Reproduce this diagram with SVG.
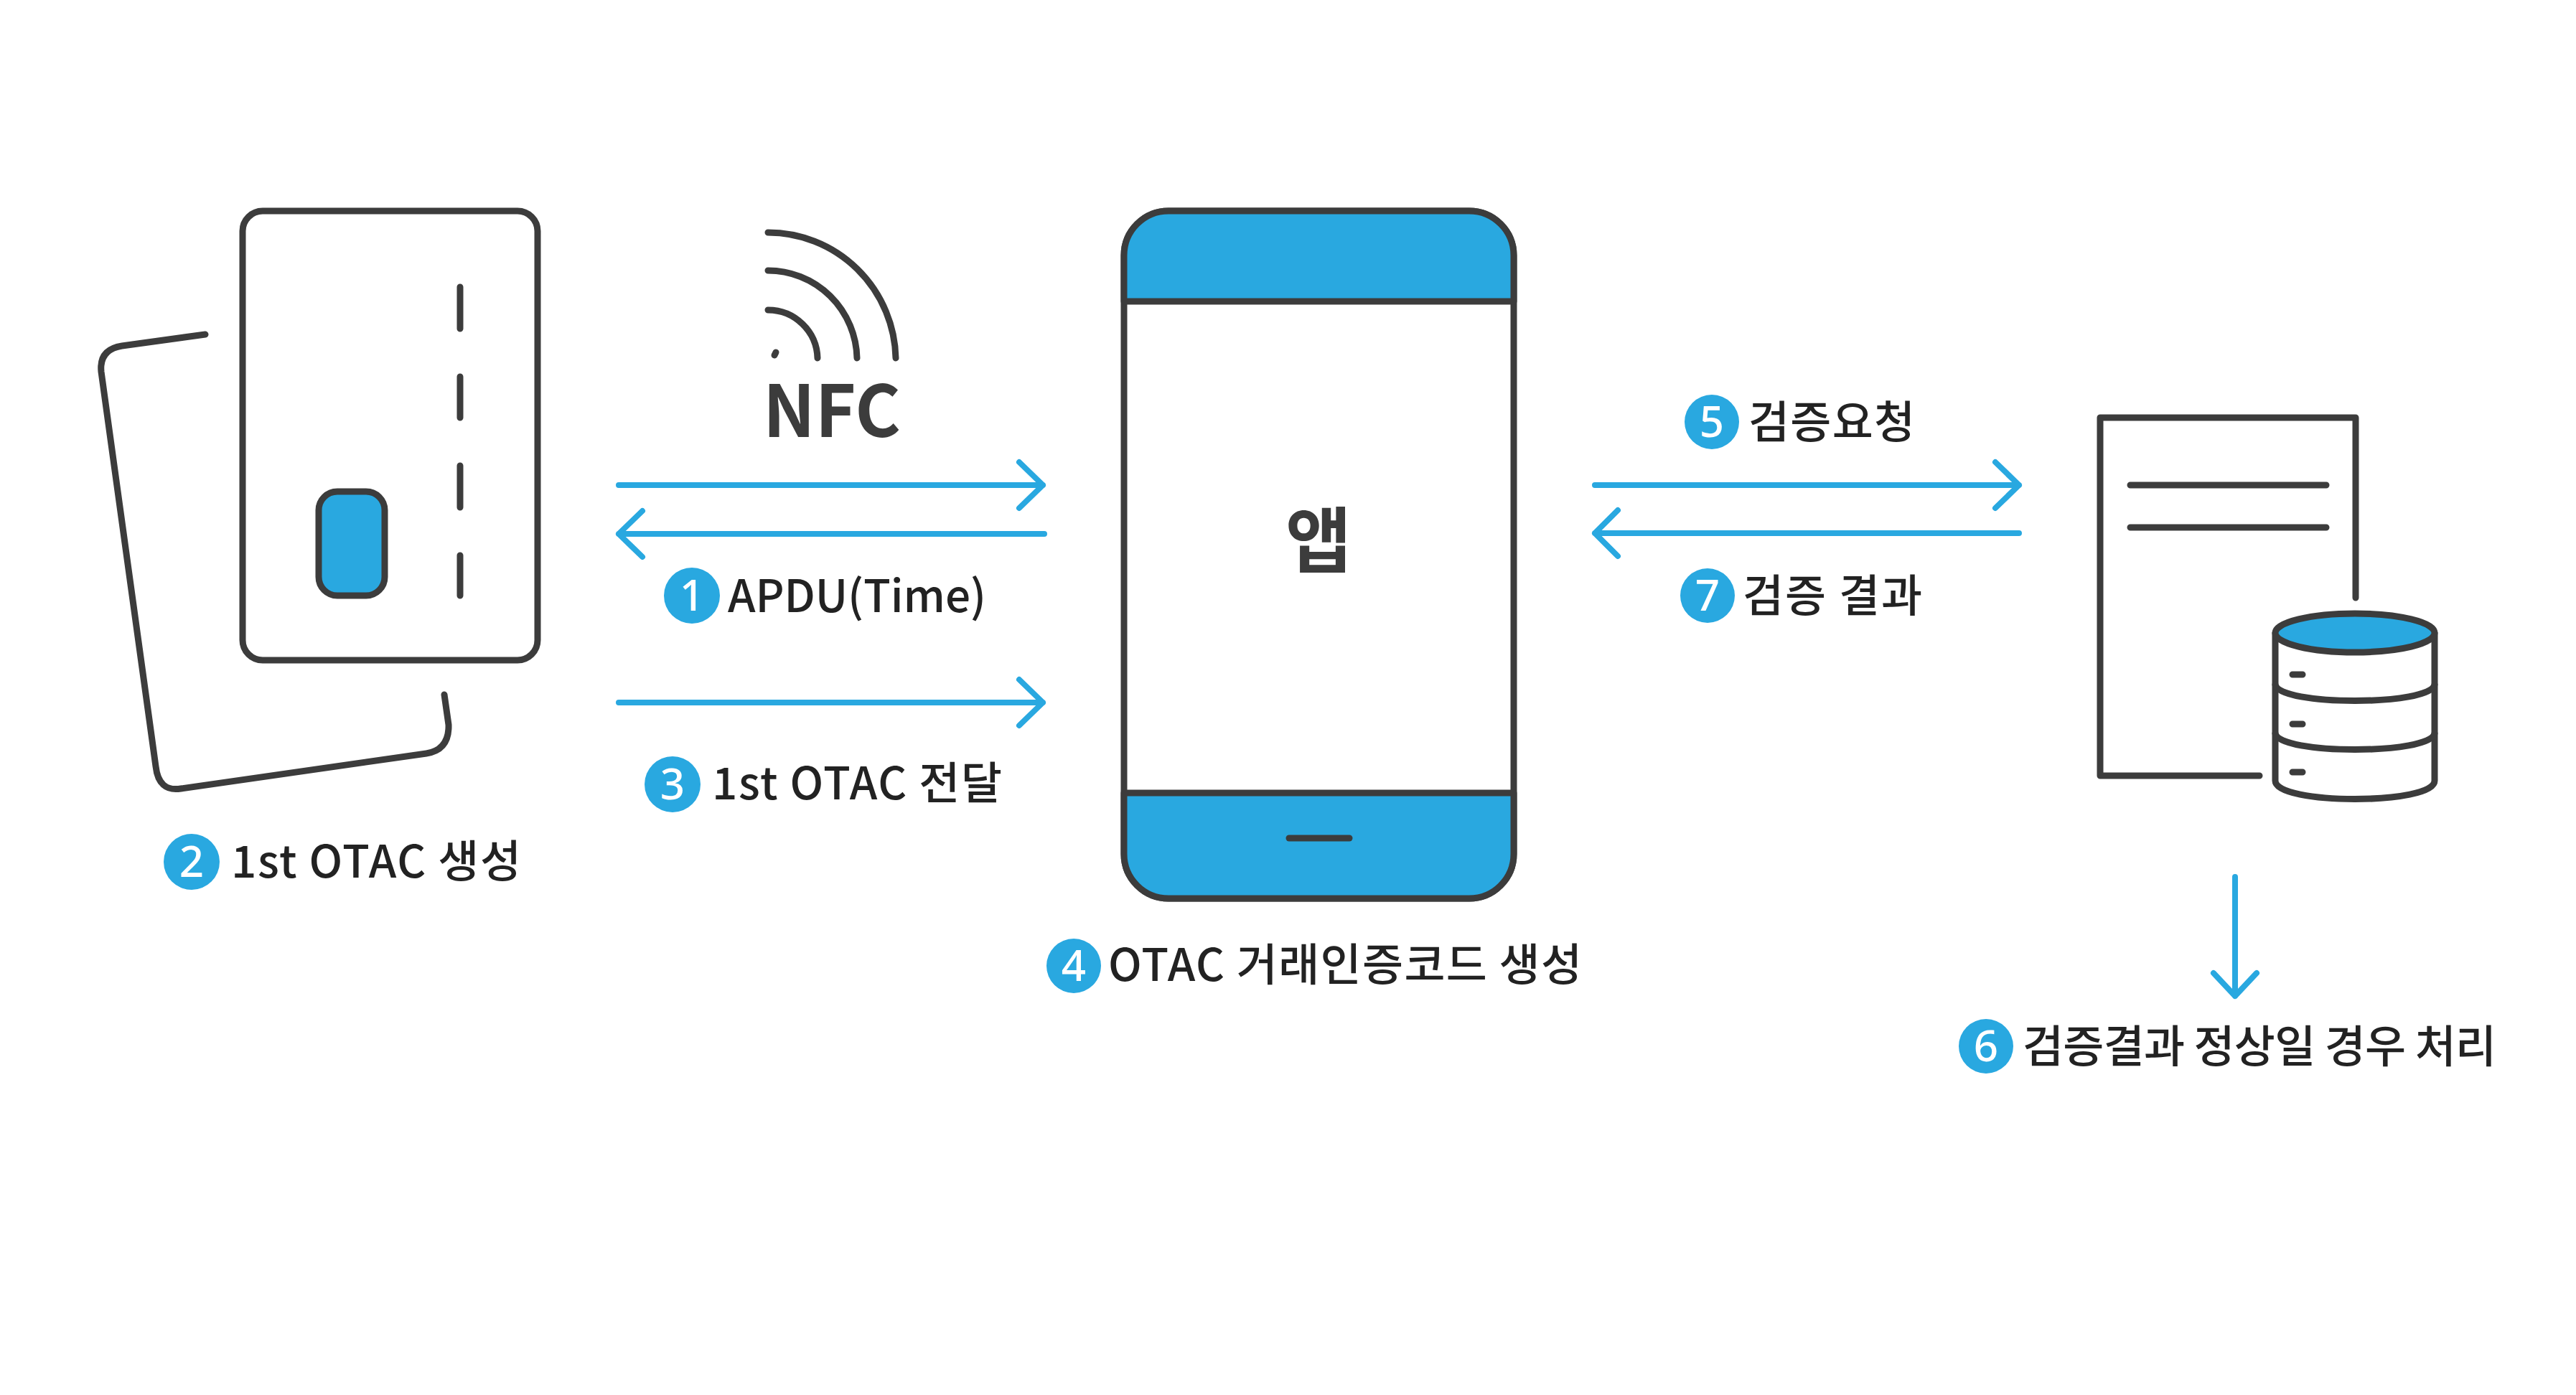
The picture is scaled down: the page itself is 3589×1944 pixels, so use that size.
<svg xmlns="http://www.w3.org/2000/svg" width="3589" height="1944" viewBox="0 0 3589 1944">
<style>
.o{fill:none;stroke:#3c3c3c;stroke-width:9;stroke-linecap:round;stroke-linejoin:round}
.f{fill:#29a8e0;stroke:#3c3c3c;stroke-width:9;stroke-linejoin:round}
.w{fill:#fff;stroke:#3c3c3c;stroke-width:9;stroke-linejoin:round}
.a{fill:none;stroke:#29a8e0;stroke-width:8;stroke-linecap:round;stroke-linejoin:round}
.c{fill:#29a8e0}
.t{font-family:"Noto Sans CJK KR","Noto Sans",sans-serif;font-size:62px;font-weight:500;fill:#222}
.n{font-family:"Noto Sans","Noto Sans CJK KR",sans-serif;font-size:60px;font-weight:500;fill:#fff;text-anchor:middle}
.b{font-family:"Noto Sans CJK KR","Noto Sans",sans-serif;font-weight:700;fill:#3c3c3c}
</style>
<rect width="3589" height="1944" fill="#fff"/>
<g id="card">
<path class="o" d="M286 466L170 482Q138 487 141 518L217 1068Q221 1104 252 1099L594 1050Q626 1045 625 1010L619 968"/>
<rect class="o" x="338" y="294" width="411" height="626" rx="28"/>
<rect class="f" x="444" y="685" width="92" height="145" rx="26"/>
<path class="o" d="M641 400V458M641 525V582M641 649V707M641 774V830"/>
</g>
<g id="nfc">
<path class="o" d="M1070 324A178 179 0 0 1 1248 499M1070 377A124 125 0 0 1 1194 499M1070 432A69 69 0 0 1 1139 499M1079 495L1081 491"/>
<text class="b" x="1063" y="609" font-size="100" textLength="192" lengthAdjust="spacingAndGlyphs">NFC</text>
</g>
<g id="phone">
<rect class="w" x="1566" y="294" width="543" height="958" rx="62"/>
<path class="f" d="M1566 420V356A62 62 0 0 1 1628 294H2047A62 62 0 0 1 2109 356V420Z"/>
<path class="f" d="M1566 1105H2109V1190A62 62 0 0 1 2047 1252H1628A62 62 0 0 1 1566 1190Z"/>
<path class="o" d="M1796 1168H1880"/>
<text class="b" x="1837" y="790" font-size="100" text-anchor="middle">앱</text>
</g>
<g id="server">
<path class="o" d="M3282 833V582H2926V1081H3148"/>
<path class="o" d="M2968 676H3241M2968 735H3241"/>
<path class="w" d="M3170 882V1088C3170 1122 3392 1122 3392 1088V882Z"/>
<ellipse class="f" cx="3281" cy="882" rx="111" ry="27"/>
<path class="o" d="M3170 954C3175 984 3387 984 3392 954M3170 1022C3175 1052 3387 1052 3392 1022"/>
<path class="o" d="M3194 940H3208M3194 1009H3208M3194 1076H3208"/>
</g>
<g id="connectors">
<path class="a" d="M862 676H1453M1420 644L1453 676L1420 708"/>
<path class="a" d="M1455 744H862M895 712L862 744L895 776"/>
<path class="a" d="M862 979H1453M1420 947L1453 979L1420 1011"/>
<path class="a" d="M2222 676H2813M2780 644L2813 676L2780 708"/>
<path class="a" d="M2813 743H2222M2254 711L2222 743L2254 775"/>
<path class="a" d="M3114 1222V1388M3084 1356L3114 1388L3144 1356"/>
</g>
<g id="label1"><circle class="c" cx="964" cy="830" r="39"/><text class="n" x="964" y="851">1</text><text class="t" x="1014" y="853" textLength="360">APDU(Time)</text></g>
<g id="label2"><circle class="c" cx="267" cy="1201" r="39"/><text class="n" x="267" y="1222">2</text><text class="t" x="322" y="1223" textLength="404">1st OTAC 생성</text></g>
<g id="label3"><circle class="c" cx="937" cy="1093" r="39"/><text class="n" x="937" y="1114">3</text><text class="t" x="992" y="1114" textLength="404">1st OTAC 전달</text></g>
<g id="label4"><circle class="c" cx="1496" cy="1346" r="38"/><text class="n" x="1496" y="1367">4</text><text class="t" x="1544" y="1367" textLength="660">OTAC 거래인증코드 생성</text></g>
<g id="label5"><circle class="c" cx="2385" cy="588" r="38"/><text class="n" x="2385" y="609">5</text><text class="t" x="2436" y="611" textLength="232">검증요청</text></g>
<g id="label7"><circle class="c" cx="2379" cy="830" r="38"/><text class="n" x="2379" y="851">7</text><text class="t" x="2428" y="853" textLength="250">검증 결과</text></g>
<g id="label6"><circle class="c" cx="2767" cy="1458" r="38"/><text class="n" x="2767" y="1479">6</text><text class="t" x="2818" y="1481" textLength="660">검증결과 정상일 경우 처리</text></g>
</svg>
